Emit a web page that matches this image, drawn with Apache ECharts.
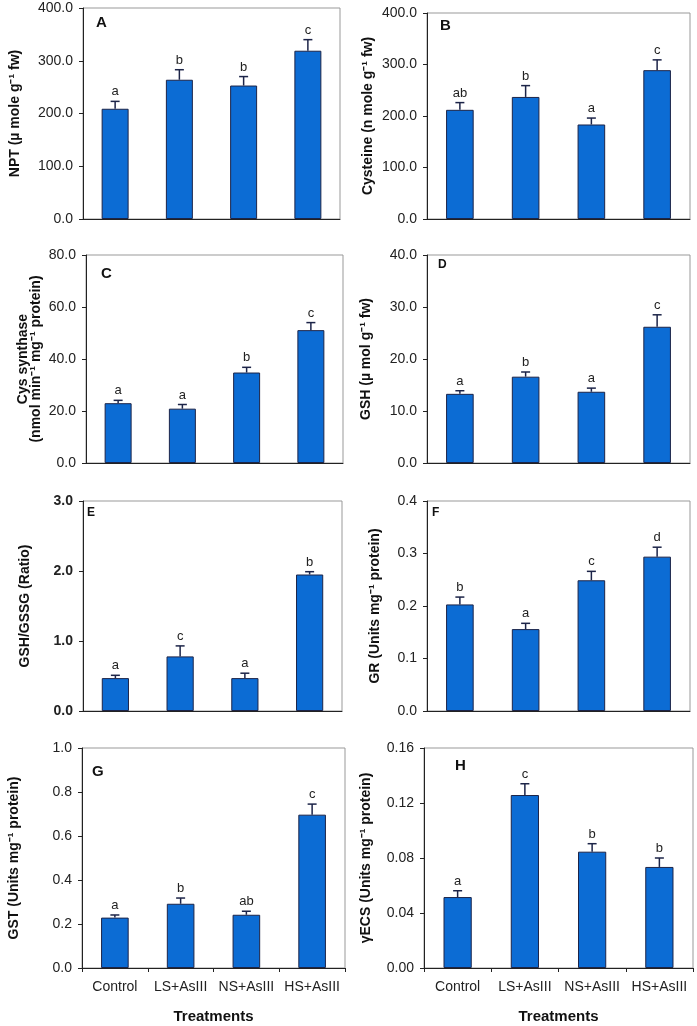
<!DOCTYPE html>
<html>
<head>
<meta charset="utf-8">
<script src="https://cdn.jsdelivr.net/npm/echarts@6/dist/echarts.min.js"></script>
<style>html,body{margin:0;padding:0;background:#fff;}#c{width:697px;height:1026px;}</style>
</head>
<body>
<div id="c"></div>
<script>
const categories = ['Control', 'LS+AsIII', 'NS+AsIII', 'HS+AsIII'];

const nptMean = [209, 264, 253, 319];
const nptSE = [14, 19, 17, 21];
const nptLetters = ['a', 'b', 'b', 'c'];

const cysMean = [212, 237, 183.5, 289];
const cysSE = [14, 22, 12.5, 20];
const cysLetters = ['ab', 'b', 'a', 'c'];

const csMean = [23.0, 20.9, 34.8, 51.1];
const csSE = [1.1, 1.6, 2.0, 2.9];
const csLetters = ['a', 'a', 'b', 'c'];

const gshMean = [13.3, 16.6, 13.7, 26.2];
const gshSE = [0.6, 0.9, 0.7, 2.3];
const gshLetters = ['a', 'b', 'a', 'c'];

const ratioMean = [0.47, 0.78, 0.47, 1.95];
const ratioSE = [0.04, 0.15, 0.07, 0.04];
const ratioLetters = ['a', 'c', 'a', 'b'];

const grMean = [0.203, 0.156, 0.249, 0.294];
const grSE = [0.014, 0.011, 0.017, 0.018];
const grLetters = ['b', 'a', 'c', 'd'];

const gstMean = [0.229, 0.292, 0.242, 0.697];
const gstSE = [0.012, 0.026, 0.016, 0.048];
const gstLetters = ['a', 'b', 'ab', 'c'];

const gecsMean = [0.0516, 0.1258, 0.0846, 0.0735];
const gecsSE = [0.0046, 0.0082, 0.0058, 0.0065];
const gecsLetters = ['a', 'c', 'b', 'b'];

const FONT = '"Liberation Sans", Arial, sans-serif';

const panels = [
  {tag: 'A', mean: nptMean, se: nptSE, letters: nptLetters, name: 'NPT (µ mole g⁻¹ fw)', max: 400, interval: 100, dec: 1,
   grid: {left: 83, top: 8, width: 257, height: 211}, nameGap: 60, tagPos: [96, 15], tagSize: 15},
  {tag: 'B', mean: cysMean, se: cysSE, letters: cysLetters, name: 'Cysteine (n mole g⁻¹ fw)', max: 400, interval: 100, dec: 1,
   grid: {left: 427, top: 13, width: 263, height: 206}, nameGap: 51, tagPos: [440, 18], tagSize: 15},
  {tag: 'C', mean: csMean, se: csSE, letters: csLetters, name: 'Cys synthase\n(nmol min⁻¹ mg⁻¹ protein)', max: 80, interval: 20, dec: 1,
   grid: {left: 86, top: 255, width: 257, height: 208}, nameGap: 43, tagPos: [101, 266], tagSize: 15, nameSize: 14, nameLH: 13},
  {tag: 'D', mean: gshMean, se: gshSE, letters: gshLetters, name: 'GSH (µ mol g⁻¹ fw)', max: 40, interval: 10, dec: 1,
   grid: {left: 427, top: 255, width: 263, height: 208}, nameGap: 53, tagPos: [438, 259], tagSize: 12},
  {tag: 'E', mean: ratioMean, se: ratioSE, letters: ratioLetters, name: 'GSH/GSSG (Ratio)', max: 3, interval: 1, dec: 1, boldTicks: true,
   grid: {left: 83, top: 501, width: 259, height: 210}, nameGap: 50, tagPos: [87, 507], tagSize: 12},
  {tag: 'F', mean: grMean, se: grSE, letters: grLetters, name: 'GR (Units mg⁻¹ protein)', max: 0.4, interval: 0.1, dec: 1,
   grid: {left: 427, top: 501, width: 263, height: 210}, nameGap: 44, tagPos: [432, 507], tagSize: 12},
  {tag: 'G', mean: gstMean, se: gstSE, letters: gstLetters, name: 'GST (Units mg⁻¹ protein)', max: 1.0, interval: 0.2, dec: 1,
   grid: {left: 82, top: 748, width: 263, height: 220}, nameGap: 60, tagPos: [92, 764], tagSize: 15, bottomRow: true},
  {tag: 'H', mean: gecsMean, se: gecsSE, letters: gecsLetters, name: 'γECS (Units mg⁻¹ protein)', max: 0.16, interval: 0.04, dec: 2,
   grid: {left: 424, top: 748, width: 269, height: 220}, nameGap: 50, tagPos: [455, 758], tagSize: 15, bottomRow: true}
];

const option = {
  animation: false,
  backgroundColor: '#fff',
  title: [], grid: [], xAxis: [], yAxis: [], series: []
};

panels.forEach((p, i) => {
  option.title.push({
    text: p.tag, left: p.tagPos[0], top: p.tagPos[1], padding: 0,
    textStyle: {fontFamily: FONT, fontSize: p.tagSize, fontWeight: 'bold', color: '#111'}
  });
  option.grid.push(Object.assign({show: true, borderColor: '#999', borderWidth: 1, backgroundColor: 'transparent'}, p.grid));
  option.xAxis.push({
    type: 'category', gridIndex: i, data: categories,
    axisLine: {show: true, lineStyle: {color: '#222', width: 1}},
    axisTick: {show: !!p.bottomRow, interval: 0, length: 4, lineStyle: {color: '#222'}},
    axisLabel: {show: !!p.bottomRow, interval: 0, margin: 12, fontFamily: FONT, fontSize: 14, color: '#222'},
    name: p.bottomRow ? 'Treatments' : '', nameLocation: 'middle', nameGap: 41,
    nameTextStyle: {fontFamily: FONT, fontSize: 15, fontWeight: 'bold', color: '#111'}
  });
  option.yAxis.push({
    type: 'value', gridIndex: i, min: 0, max: p.max, interval: p.interval,
    axisLine: {show: true, lineStyle: {color: '#222', width: 1}},
    axisTick: {show: true, inside: false, length: 4, lineStyle: {color: '#222'}},
    splitLine: {show: false},
    axisLabel: {margin: 10, fontFamily: FONT, fontSize: 14, color: '#222', fontWeight: p.boldTicks ? 'bold' : 'normal',
      formatter: v => v.toFixed(p.dec)},
    name: p.name, nameLocation: 'middle', nameGap: p.nameGap,
    nameTextStyle: {fontFamily: FONT, fontSize: p.nameSize || 14, fontWeight: 'bold', color: '#111', lineHeight: p.nameLH || 15}
  });
  option.series.push({
    type: 'bar', xAxisIndex: i, yAxisIndex: i, data: p.mean, barWidth: '42%',
    itemStyle: {color: '#0c6cd4', borderColor: '#1c2448', borderWidth: 1}
  });
  option.series.push({
    type: 'custom', xAxisIndex: i, yAxisIndex: i, z: 5,
    data: p.mean.map((m, k) => [k, m, p.se[k]]),
    renderItem: (params, api) => {
      const x = api.value(0), y = api.value(1), e = api.value(2);
      const p0 = api.coord([x, y]);
      const p1 = api.coord([x, y + e]);
      const st = {stroke: '#1c2448', lineWidth: 1.5};
      return {type: 'group', children: [
        {type: 'line', shape: {x1: p0[0], y1: p0[1], x2: p1[0], y2: p1[1]}, style: st},
        {type: 'line', shape: {x1: p1[0] - 4.5, y1: p1[1], x2: p1[0] + 4.5, y2: p1[1]}, style: st},
        {type: 'text', x: p1[0], y: p1[1] - 3, style: {text: p.letters[params.dataIndex], textAlign: 'center',
          textVerticalAlign: 'bottom', fontFamily: FONT, fontSize: 13, fill: '#222'}}
      ]};
    }
  });
});

const chart = echarts.init(document.getElementById('c'));
chart.setOption(option);
</script>
</body>
</html>
